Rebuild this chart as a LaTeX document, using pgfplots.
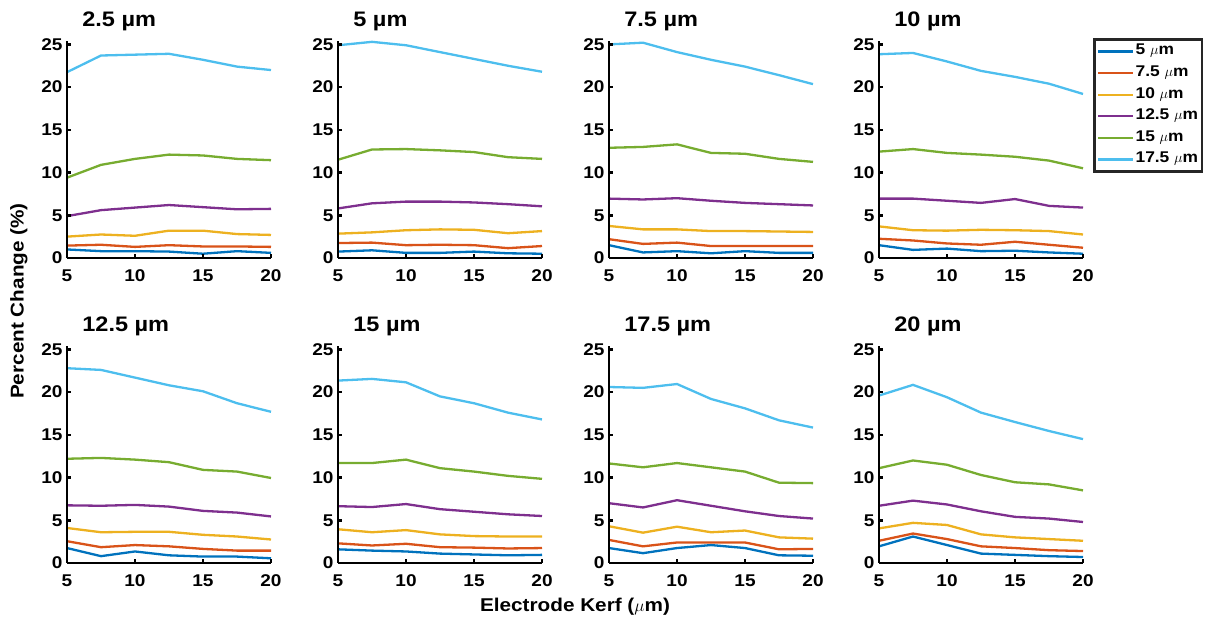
\documentclass[border=0pt]{standalone}
\usepackage{fontspec}
\setmainfont[FakeStretch=1.12]{Liberation Sans}
\usepackage{pgfplots}
\usepackage{pgfplotstable}
\pgfplotsset{compat=1.18}

\definecolor{c1}{RGB}{0,114,189}
\definecolor{c2}{RGB}{217,83,25}
\definecolor{c3}{RGB}{237,177,32}
\definecolor{c4}{RGB}{126,47,142}
\definecolor{c5}{RGB}{119,172,48}
\definecolor{c6}{RGB}{77,190,238}

\pgfplotstableread{
x a b c d e f
5 1.0 1.45 2.5 4.9 9.4 21.75
7.5 0.8 1.55 2.75 5.6 10.9 23.7
10 0.8 1.3 2.6 5.9 11.6 23.8
12.5 0.75 1.5 3.2 6.2 12.1 23.9
15 0.5 1.35 3.2 5.95 12.0 23.2
17.5 0.8 1.35 2.8 5.7 11.6 22.4
20 0.6 1.3 2.7 5.75 11.45 22.0
}\tA
\pgfplotstableread{
x a b c d e f
5 0.75 1.75 2.85 5.8 11.5 24.9
7.5 0.9 1.8 3.0 6.4 12.7 25.3
10 0.6 1.5 3.25 6.6 12.75 24.9
12.5 0.6 1.55 3.35 6.6 12.6 24.1
15 0.75 1.5 3.3 6.5 12.4 23.3
17.5 0.55 1.15 2.9 6.3 11.8 22.5
20 0.5 1.4 3.15 6.05 11.6 21.8
}\tB
\pgfplotstableread{
x a b c d e f
5 1.5 2.2 3.75 6.95 12.9 25.0
7.5 0.65 1.65 3.35 6.85 13.0 25.2
10 0.8 1.8 3.35 7.0 13.3 24.1
12.5 0.55 1.4 3.15 6.7 12.3 23.2
15 0.8 1.4 3.15 6.45 12.2 22.4
17.5 0.6 1.4 3.1 6.3 11.6 21.4
20 0.6 1.4 3.05 6.15 11.25 20.35
}\tC
\pgfplotstableread{
x a b c d e f
5 1.5 2.25 3.7 6.95 12.45 23.85
7.5 0.95 2.05 3.25 6.95 12.75 24.0
10 1.1 1.7 3.2 6.7 12.3 23.0
12.5 0.8 1.55 3.3 6.45 12.1 21.9
15 0.85 1.9 3.25 6.9 11.85 21.2
17.5 0.65 1.55 3.15 6.1 11.4 20.4
20 0.5 1.2 2.75 5.9 10.5 19.2
}\tD
\pgfplotstableread{
x a b c d e f
5 1.75 2.55 4.1 6.75 12.2 22.8
7.5 0.8 1.85 3.6 6.7 12.3 22.6
10 1.35 2.1 3.65 6.8 12.1 21.7
12.5 0.9 1.95 3.65 6.6 11.8 20.8
15 0.75 1.65 3.3 6.1 10.9 20.1
17.5 0.75 1.45 3.1 5.9 10.7 18.7
20 0.55 1.45 2.75 5.45 9.95 17.7
}\tE
\pgfplotstableread{
x a b c d e f
5 1.6 2.3 3.95 6.65 11.7 21.35
7.5 1.45 2.05 3.6 6.55 11.7 21.55
10 1.35 2.25 3.85 6.9 12.1 21.15
12.5 1.1 1.85 3.35 6.3 11.1 19.5
15 1.0 1.8 3.15 6.0 10.7 18.7
17.5 0.9 1.7 3.1 5.7 10.2 17.6
20 0.95 1.75 3.1 5.5 9.85 16.8
}\tF
\pgfplotstableread{
x a b c d e f
5 1.75 2.7 4.3 7.0 11.65 20.6
7.5 1.15 1.95 3.55 6.5 11.2 20.5
10 1.75 2.4 4.25 7.35 11.7 20.95
12.5 2.1 2.4 3.6 6.7 11.2 19.2
15 1.75 2.4 3.8 6.05 10.7 18.1
17.5 0.9 1.6 3.0 5.5 9.4 16.7
20 0.85 1.65 2.85 5.2 9.35 15.85
}\tG
\pgfplotstableread{
x a b c d e f
5 1.95 2.6 4.05 6.7 11.1 19.6
7.5 3.1 3.45 4.7 7.3 12.0 20.85
10 2.1 2.8 4.45 6.85 11.5 19.4
12.5 1.1 1.95 3.35 6.05 10.3 17.6
15 0.95 1.75 3.0 5.4 9.45 16.5
17.5 0.8 1.5 2.8 5.2 9.2 15.45
20 0.7 1.4 2.6 4.8 8.5 14.5
}\tH

\pgfplotsset{
  panel/.style={
    scale only axis, width=204pt, height=217pt,
    anchor=south west,
    xmin=5, xmax=20, ymin=0, ymax=25.4,
    axis x line*=bottom, axis y line*=left,
    axis line style={-, line width=2.6pt, black},
    axis on top, clip=false,
    xtick={5,10,15,20}, ytick={0,5,10,15,20,25},
    tick align=inside, major tick length=4pt,
    tick style={line width=2.6pt, black},
    ticklabel style={font=\fontsize{17}{17}\selectfont\bfseries},
    yticklabel style={xshift=-1pt},
    xticklabel style={yshift=-8pt},
    /pgf/number format/assume math mode=true,
    title style={at={(0.058,1.04)}, anchor=base west, font=\fontsize{21}{21}\selectfont\bfseries},
    cycle list={
      {c1, line width=2.3pt},
      {c2, line width=2.3pt},
      {c3, line width=2.3pt},
      {c4, line width=2.3pt},
      {c5, line width=2.3pt},
      {c6, line width=2.3pt}},
  }
}

\newcommand{\sixplots}[1]{%
  \addplot table[x=x,y=a]{#1};
  \addplot table[x=x,y=b]{#1};
  \addplot table[x=x,y=c]{#1};
  \addplot table[x=x,y=d]{#1};
  \addplot table[x=x,y=e]{#1};
  \addplot table[x=x,y=f]{#1};
}

\begin{document}
\begin{tikzpicture}[x=1pt,y=1pt]
\path[use as bounding box] (0,0) rectangle (1206,623);

\begin{axis}[panel, at={(67pt,365pt)}, title={2.5 µm}]
\sixplots{\tA}
\end{axis}
\begin{axis}[panel, at={(338pt,365pt)}, title={5 µm}]
\sixplots{\tB}
\end{axis}
\begin{axis}[panel, at={(609pt,365pt)}, title={7.5 µm}]
\sixplots{\tC}
\end{axis}
\begin{axis}[panel, at={(879pt,365pt)}, title={10 µm},
  legend style={at={(1.049,1.013)}, anchor=north west, draw=black!85,
    line width=2.6pt, fill=white,
    font=\fontsize{15.5}{15.5}\selectfont\bfseries,
    inner xsep=3pt, inner ysep=4.5pt, row sep=6.6pt,
    nodes={inner ysep=0pt, inner xsep=1pt, text height=11pt, text depth=4pt}},
  legend cell align=left,
  legend image code/.code={\draw[#1] (0pt,0pt) -- (35pt,0pt);}]
\sixplots{\tD}
\legend{5 $\mu$m, 7.5 $\mu$m, 10 $\mu$m, 12.5 $\mu$m, 15 $\mu$m, 17.5 $\mu$m}
\end{axis}

\begin{axis}[panel, at={(67pt,60pt)}, title={12.5 µm}]
\sixplots{\tE}
\end{axis}
\begin{axis}[panel, at={(338pt,60pt)}, title={15 µm}]
\sixplots{\tF}
\end{axis}
\begin{axis}[panel, at={(609pt,60pt)}, title={17.5 µm}]
\sixplots{\tG}
\end{axis}
\begin{axis}[panel, at={(879pt,60pt)}, title={20 µm}]
\sixplots{\tH}
\end{axis}

\node[rotate=90, font=\fontsize{18.5}{18.5}\selectfont\bfseries] at (19,322) {Percent Change (\%)};
\node[font=\fontsize{18.5}{18.5}\selectfont\bfseries] at (575,16) {Electrode Kerf ($\mu$m)};
\end{tikzpicture}
\end{document}
